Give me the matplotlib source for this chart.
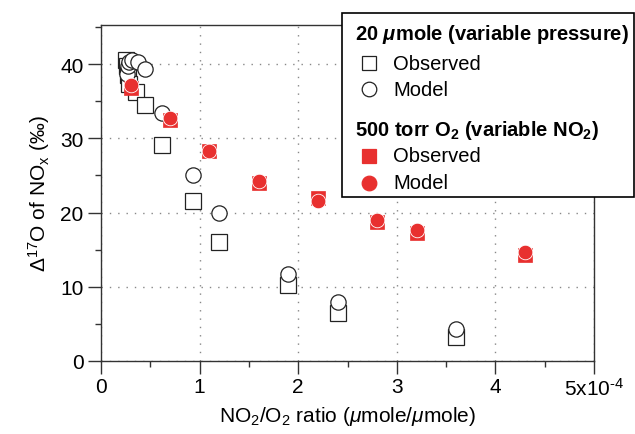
import numpy as np
import matplotlib
matplotlib.use("Agg")
import matplotlib.pyplot as plt
from matplotlib.lines import Line2D
from matplotlib.patches import Rectangle
from matplotlib.ticker import MultipleLocator

plt.rcParams['font.family'] = ['Liberation Sans', 'DejaVu Sans']
plt.rcParams['mathtext.fontset'] = 'custom'
plt.rcParams['mathtext.rm'] = 'Liberation Sans'
plt.rcParams['mathtext.it'] = 'Liberation Sans:italic'
plt.rcParams['mathtext.bf'] = 'Liberation Sans:bold'
plt.rcParams['mathtext.bfit'] = 'Liberation Sans:italic:bold'

# 20 umole (variable pressure); x in units of 1e-4
press_obs_x = [0.25, 0.26, 0.27, 0.28, 0.36, 0.45, 0.62, 0.93, 1.20, 1.90, 2.40, 3.60]
press_obs_y = [40.5, 39.8, 38.5, 37.3, 36.3, 34.5, 29.1, 21.6, 16.0, 10.3, 6.4, 3.2]
press_mod_x = [0.26, 0.27, 0.28, 0.31, 0.38, 0.45, 0.62, 0.93, 1.20, 1.90, 2.40, 3.60]
press_mod_y = [38.6, 39.8, 40.3, 40.6, 40.3, 39.4, 33.4, 25.0, 19.9, 11.7, 8.0, 4.3]

# 500 torr O2 (variable NO2)
no2_x = [0.30, 0.70, 1.10, 1.60, 2.20, 2.80, 3.20, 4.30]
no2_obs_y = [36.8, 32.5, 28.3, 24.0, 22.0, 18.7, 17.2, 14.3]
no2_mod_y = [37.2, 32.7, 28.3, 24.3, 21.6, 19.0, 17.6, 14.7]

xtick_vals = [0, 1, 2, 3, 4, 5]
xtick_labels = ['0', '1', '2', '3', '4', '5x10$^{\\text{-4}}$']
ytick_vals = [0, 10, 20, 30, 40]

red = '#E8302F'
W, H = 635, 435

fig = plt.figure(figsize=(6.35, 4.35), dpi=100)
ax = fig.add_axes([101 / W, 1 - 362 / H, (594 - 101) / W, (362 - 25.7) / H])

ax.plot(press_obs_x, press_obs_y, ls='none', marker='s', ms=11, mfc='white',
        mec='#222222', mew=0.9, zorder=3)
ax.plot(press_mod_x, press_mod_y, ls='none', marker='o', ms=11, mfc='white',
        mec='#222222', mew=0.9, zorder=4)
ax.plot(no2_x, no2_obs_y, ls='none', marker='s', ms=10, mfc=red, mec=red,
        mew=0.5, zorder=5)
ax.plot(no2_x, no2_mod_y, ls='none', marker='o', ms=10.5, mfc=red, mec='white',
        mew=0.6, zorder=6)

ax.set_xlim(0, 5)
ax.set_ylim(0, 45.3)
ax.set_xticks(xtick_vals)
ax.set_xticklabels(xtick_labels)
ax.set_yticks(ytick_vals)
ax.xaxis.set_minor_locator(MultipleLocator(0.5))
ax.yaxis.set_minor_locator(MultipleLocator(5))
ax.tick_params(which='major', direction='out', length=9.5, width=1,
               labelsize=15, color='#333333')
ax.tick_params(which='minor', direction='out', length=4.5, width=1,
               color='#333333')
ax.tick_params(axis='x', pad=2)
ax.tick_params(axis='y', pad=3)
for s in ax.spines.values():
    s.set_linewidth(1)
    s.set_color('#333333')

ax.grid(True, which='major', color='#888888', linestyle=(0, (1, 5)), linewidth=1)

ax.set_xlabel('NO$_2$/O$_2$ ratio ($\\mu$mole/$\\mu$mole)', fontsize=15, labelpad=4)
ax.set_ylabel('$\\Delta^{17}$O of NO$_\\mathrm{x}$ (\u2030)', fontsize=15, labelpad=6)

# legend box drawn in figure pixels
def fx(px):
    return px / W

def fy(py):
    return 1 - py / H

fig.add_artist(Rectangle((fx(342), fy(198)), fx(634) - fx(342), fy(14) - fy(198),
                         transform=fig.transFigure, facecolor='white',
                         edgecolor='black', linewidth=1.2, zorder=10))

fs = 14.5
fig.text(fx(355), fy(35), '20 $\\mathbfit{\\mu}$mole (variable pressure)',
         fontsize=fs, fontweight='bold', va='center', ha='left', zorder=11)
fig.text(fx(355), fy(130), '500 torr O$_\\mathbf{2}$ (variable NO$_\\mathbf{2}$)',
         fontsize=fs, fontweight='bold', va='center', ha='left', zorder=11)

entries = [
    (64, 's', 'white', '#222222', 'Observed'),
    (90, 'o', 'white', '#222222', 'Model'),
    (157, 's', red, red, 'Observed'),
    (184, 'o', red, red, 'Model'),
]
for py, mk, fc, ec, lab in entries:
    fig.add_artist(Line2D([fx(369)], [fy(py)], transform=fig.transFigure,
                          marker=mk, ms=10.5, mfc=fc, mec=ec, mew=0.9,
                          ls='none', zorder=11))
    fig.text(fx(393), fy(py), lab, fontsize=fs, va='center', ha='left', zorder=11)

fig.savefig('out.png', dpi=100)
